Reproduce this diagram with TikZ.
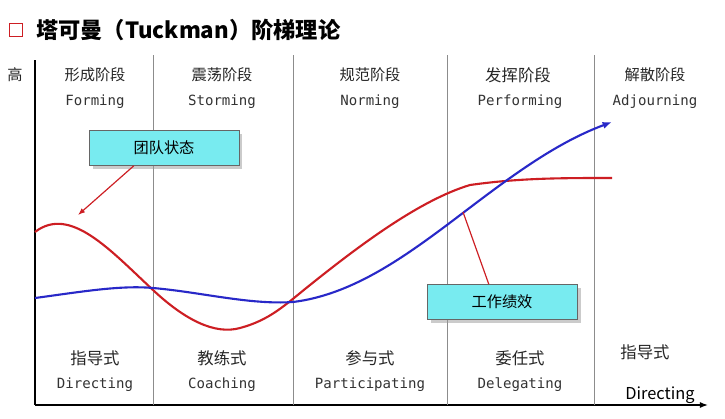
\documentclass[tikz,border=0pt]{standalone}
\usepackage{fontspec}
\setmainfont{Noto Sans CJK SC}
\newfontfamily\monof{DejaVu Sans Mono}
\usetikzlibrary{arrows.meta,shadows}
\definecolor{redc}{RGB}{205,30,35}
\definecolor{bluec}{RGB}{40,40,200}
\definecolor{boxc}{RGB}{120,235,240}
\tikzset{
 zh/.style={font=\fontsize{13}{15}\selectfont,text=black!85},
 en/.style={font=\monof\fontsize{12}{14}\selectfont,text=black!80},
 callout/.style={draw=black!60,fill=boxc,minimum width=128pt,minimum height=30pt,font=\fontsize{13}{15}\selectfont,drop shadow={shadow xshift=3pt,shadow yshift=-3pt,fill=black!40}},
 sep/.style={draw=black!45,line width=0.6pt}
}
\begin{document}
\begin{tikzpicture}[x=0.03cm,y=-0.03cm]
\useasboundingbox[fill=white] (0,0) rectangle (725,419);
% title
\node[draw=redc,line width=1.6pt,minimum size=11pt,inner sep=0pt] (sq) at (16,30) {};
\node[anchor=west,font=\bfseries\fontsize{19}{22}\selectfont] (title) at (32,30) {塔可曼（Tuckman）阶梯理论};
% axes
\coordinate (o) at (35,405);
\coordinate (ytop) at (35,60);
\coordinate (xend) at (708,405);
\draw[line width=1.2pt] (ytop) -- (o);
\draw[line width=1.2pt,-{Latex[length=7pt]}] (o) -- (xend);
\node[zh] (high) at (15,75) {高};
% separators
\foreach \x in {153,293,447,594}{\draw[sep] (\x,55) -- (\x,405);}
% stages
\node[zh] (s1) at (95,75) {形成阶段};
\node[en] (e1) at (95,102) {Forming};
\node[zh] (s2) at (222,75) {震荡阶段};
\node[en] (e2) at (222,102) {Storming};
\node[zh] (s3) at (370,75) {规范阶段};
\node[en] (e3) at (370,102) {Norming};
\node[zh,font=\fontsize{14}{16}\selectfont] (s4) at (518,75) {发挥阶段};
\node[en] (e4) at (520,102) {Performing};
\node[zh] (s5) at (655,75) {解散阶段};
\node[en] (e5) at (655,102) {Adjourning};
% styles
\node[zh,font=\fontsize{14}{16}\selectfont] (d1) at (95,358) {指导式};
\node[en] (f1) at (95,385) {Directing};
\node[zh,font=\fontsize{14}{16}\selectfont] (d2) at (222,358) {教练式};
\node[en] (f2) at (222,385) {Coaching};
\node[zh,font=\fontsize{14}{16}\selectfont] (d3) at (370,358) {参与式};
\node[en] (f3) at (370,385) {Participating};
\node[zh,font=\fontsize{14}{16}\selectfont] (d4) at (520,358) {委任式};
\node[en] (f4) at (520,385) {Delegating};
\node[zh,font=\fontsize{14}{16}\selectfont] (d5) at (645,352) {指导式};
\node[font=\fontsize{14}{16}\selectfont] (f5) at (660,395) {Directing};
% red curve
\draw[redc,line width=1.8pt] (35,232) .. controls (70,205) and (110,250) .. (153,290)
  .. controls (185,320) and (215,335) .. (240,328)
  .. controls (270,320) and (285,305) .. (310,285)
  .. controls (360,245) and (420,200) .. (470,185)
  .. controls (520,178) and (560,178) .. (612,178);
% blue curve
\draw[bluec,line width=1.8pt,-{Latex[length=8pt]}] (35,298) .. controls (80,292) and (120,285) .. (153,288)
  .. controls (200,292) and (250,305) .. (293,302)
  .. controls (350,295) and (400,260) .. (447,225)
  .. controls (500,185) and (550,145) .. (612,122);
% callouts
\node[callout] (c1) at (164,148) {团队状态};
\node[callout] (c2) at (502,302) {工作绩效};
\coordinate (p1) at (78,215);
\coordinate (p2) at (463,212);
\draw[redc,line width=1pt,-{Latex[length=6pt]}] (c1.south west)++(45,0) -- (p1);
\draw[redc,line width=1pt] (c2.north west)++(62,0) -- (p2);
\end{tikzpicture}
\end{document}
